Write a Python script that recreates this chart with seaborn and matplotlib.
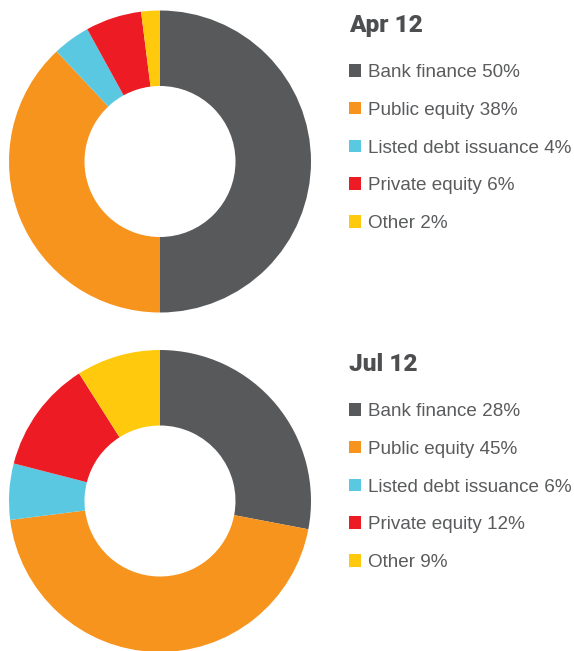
import matplotlib
matplotlib.use("Agg")
import matplotlib.pyplot as plt
import seaborn as sns

sns.set_theme(style="white")
plt.rcParams['font.family'] = ['Liberation Sans', 'DejaVu Sans']

# data
categories = ['Bank finance', 'Public equity', 'Listed debt issuance', 'Private equity', 'Other']
apr_values = [50, 38, 4, 6, 2]
jul_values = [28, 45, 6, 12, 9]
periods = ['Apr 12', 'Jul 12']
colors = ['#58595b', '#f7941d', '#5bc8e2', '#ed1c24', '#ffc90e']

W, H = 574, 651
fig = plt.figure(figsize=(W / 100, H / 100), dpi=100)
text_col = '#5a5b5d'

def px_axes(cx, cy, r):
    # axes box in figure fraction from pixel centre and radius
    return [(cx - r) / W, (H - cy - r) / H, 2 * r / W, 2 * r / H]

def donut(values, title, cy, title_y, leg_y):
    ax = fig.add_axes(px_axes(160, cy, 151))
    wedges, _ = ax.pie(values, colors=colors, startangle=90, counterclock=False,
                       radius=1, wedgeprops=dict(width=0.5, edgecolor='none', linewidth=0))
    ax.set_xlim(-1, 1)
    ax.set_ylim(-1, 1)
    ax.set_aspect('equal')
    ax.axis('off')
    fig.text(349 / W, 1 - title_y / H, title, fontsize=17.6, fontweight=900,
             family=['Roboto', 'Lato', 'DejaVu Sans'], color='#4d4e50', va='baseline', ha='left')
    labels = [f'{c} {v}%' for c, v in zip(categories, values)]
    fig.legend(wedges, labels, loc='upper left', bbox_to_anchor=(349 / W, 1 - leg_y / H),
               frameon=False, fontsize=13.6, handlelength=0.64, handleheight=0.64,
               handletextpad=0.37, labelspacing=1.1, labelcolor=text_col,
               borderpad=0, borderaxespad=0)

donut(apr_values, periods[0], 161.5, 32, 64)
donut(jul_values, periods[1], 501, 371, 403)

fig.savefig('out.png', dpi=100)
